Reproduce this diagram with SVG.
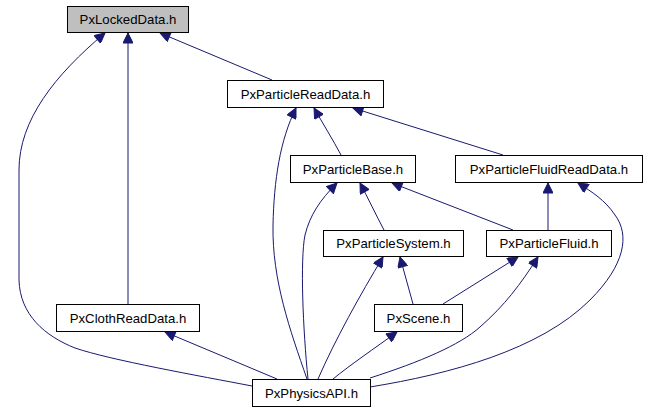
<svg xmlns="http://www.w3.org/2000/svg" width="667" height="411" viewBox="0 0 667 411">
<style>
.box{fill:#ffffff;stroke:#000000;stroke-width:1}
.root{fill:#bfbfbf}
.lbl{font-family:"Liberation Sans",Arial,sans-serif;font-size:13.2px;fill:#000000;text-anchor:middle}
.edge{fill:none;stroke:#191970;stroke-width:1;marker-end:url(#arr)}
</style>
<defs>
<marker id="arr" viewBox="0 0 10 10" refX="10" refY="5" markerWidth="12" markerHeight="10" markerUnits="userSpaceOnUse" orient="auto">
<path d="M0,0 L10,5 L0,10 z" fill="#191970" stroke="#191970"/>
</marker>
</defs>
<g id="connectors">
<path class="edge" d="M252,386 C200,376 110,360 75,348 C45,336 20,315 19,280 L19,170 C19,120 55,75 105,33"/>
<path class="edge" d="M128,304 L128,33"/>
<path class="edge" d="M272,80 L160,33"/>
<path class="edge" d="M341,155 C333,140 322,122 314,108"/>
<path class="edge" d="M307,379 C290,330 272,280 273,225 C274,180 280,140 296,108"/>
<path class="edge" d="M503,155 L353,108"/>
<path class="edge" d="M308,379 C303,330 300,260 305,235 C310,215 320,200 337,183"/>
<path class="edge" d="M384,230 C376,215 368,198 360,183"/>
<path class="edge" d="M513,230 L392,183"/>
<path class="edge" d="M548,230 L548,183"/>
<path class="edge" d="M370,387 C450,374 540,350 590,300 C625,265 630,235 615,215 C605,200 592,192 578,183"/>
<path class="edge" d="M413,304 L400,257"/>
<path class="edge" d="M318,379 C335,340 360,295 383,257"/>
<path class="edge" d="M443,304 L518,257"/>
<path class="edge" d="M370,378 C420,362 460,345 480,327 C505,305 520,285 538,257"/>
<path class="edge" d="M333,379 C350,365 375,348 397,332"/>
<path class="edge" d="M277,379 L165,332"/>
</g>
<g id="PxLockedData"><rect class="box root" x="67.5" y="6.5" width="121" height="26"/><text class="lbl" x="128" y="24">PxLockedData.h</text></g>
<g id="PxParticleReadData"><rect class="box" x="227.5" y="80.5" width="156" height="27"/><text class="lbl" x="305.5" y="98.5">PxParticleReadData.h</text></g>
<g id="PxParticleBase"><rect class="box" x="290.5" y="155.5" width="125" height="27"/><text class="lbl" x="353" y="173.5">PxParticleBase.h</text></g>
<g id="PxParticleFluidReadData"><rect class="box" x="455.5" y="155.5" width="187" height="27"/><text class="lbl" x="549" y="173.5">PxParticleFluidReadData.h</text></g>
<g id="PxParticleSystem"><rect class="box" x="323.5" y="230.5" width="140" height="26"/><text class="lbl" x="393.5" y="248">PxParticleSystem.h</text></g>
<g id="PxParticleFluid"><rect class="box" x="486.5" y="230.5" width="125" height="26"/><text class="lbl" x="549" y="248">PxParticleFluid.h</text></g>
<g id="PxClothReadData"><rect class="box" x="56.5" y="304.5" width="143" height="27"/><text class="lbl" x="128" y="322.5">PxClothReadData.h</text></g>
<g id="PxScene"><rect class="box" x="374.5" y="304.5" width="88" height="27"/><text class="lbl" x="418.5" y="322.5">PxScene.h</text></g>
<g id="PxPhysicsAPI"><rect class="box" x="252.5" y="379.5" width="118" height="27"/><text class="lbl" x="311.5" y="397.5">PxPhysicsAPI.h</text></g>
</svg>
